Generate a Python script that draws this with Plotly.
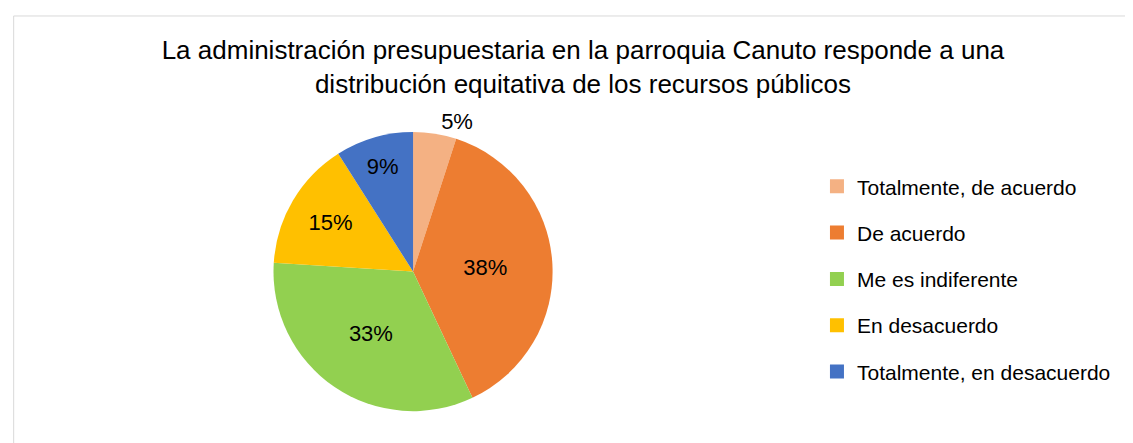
import plotly.graph_objects as go

# Data
categories = [
    "Totalmente, de acuerdo",
    "De acuerdo",
    "Me es indiferente",
    "En desacuerdo",
    "Totalmente, en desacuerdo",
]
values = [5, 38, 33, 15, 9]
colors = ["#F4B183", "#ED7D31", "#92D050", "#FFC000", "#4472C4"]
label_pos = ["outside", "inside", "inside", "inside", "inside"]

title = ("La administración presupuestaria en la parroquia Canuto responde a una<br>"
         "distribución equitativa de los recursos públicos")

font_family = "Liberation Sans, Arial"

fig = go.Figure()

fig.add_trace(go.Pie(
    labels=categories,
    values=values,
    sort=False,
    direction="clockwise",
    rotation=0,
    marker=dict(colors=colors, line=dict(width=0)),
    textinfo="percent",
    texttemplate="%{percent:.0%}",
    textposition=label_pos,
    insidetextorientation="horizontal",
    textfont=dict(size=22, color="black", family=font_family),
    outsidetextfont=dict(size=22, color="black", family=font_family),
    domain=dict(x=[0.228, 0.487], y=[0.09, 0.72]),
    showlegend=False,
    hoverinfo="label+percent",
))

# legend entries as separate traces so the spacing can be set
for name, col in zip(categories, colors):
    fig.add_trace(go.Scatter(
        x=[None], y=[None], mode="markers", name=name,
        legendgroup=name,
        marker=dict(symbol="square", size=14, color=col),
    ))

fig.update_layout(
    width=1133,
    height=443,
    margin=dict(l=0, r=0, t=0, b=0),
    paper_bgcolor="white",
    plot_bgcolor="white",
    font=dict(family=font_family, color="black"),
    title=dict(
        text=title,
        x=0.5075,
        xanchor="center",
        y=0.885,
        yanchor="top",
        font=dict(size=26, color="black", family=font_family),
    ),
    xaxis=dict(visible=False),
    yaxis=dict(visible=False),
    legend=dict(
        x=0.714,
        y=0.643,
        xanchor="left",
        yanchor="top",
        font=dict(size=21, color="black", family=font_family),
        tracegroupgap=16,
        itemwidth=30,
    ),
    shapes=[dict(
        type="rect", xref="paper", yref="paper",
        x0=0.005, x1=1.2, y0=-0.2, y1=0.982,
        line=dict(color="#D9D9D9", width=1),
        fillcolor="rgba(0,0,0,0)",
    )],
)

fig.write_html("out.html")
